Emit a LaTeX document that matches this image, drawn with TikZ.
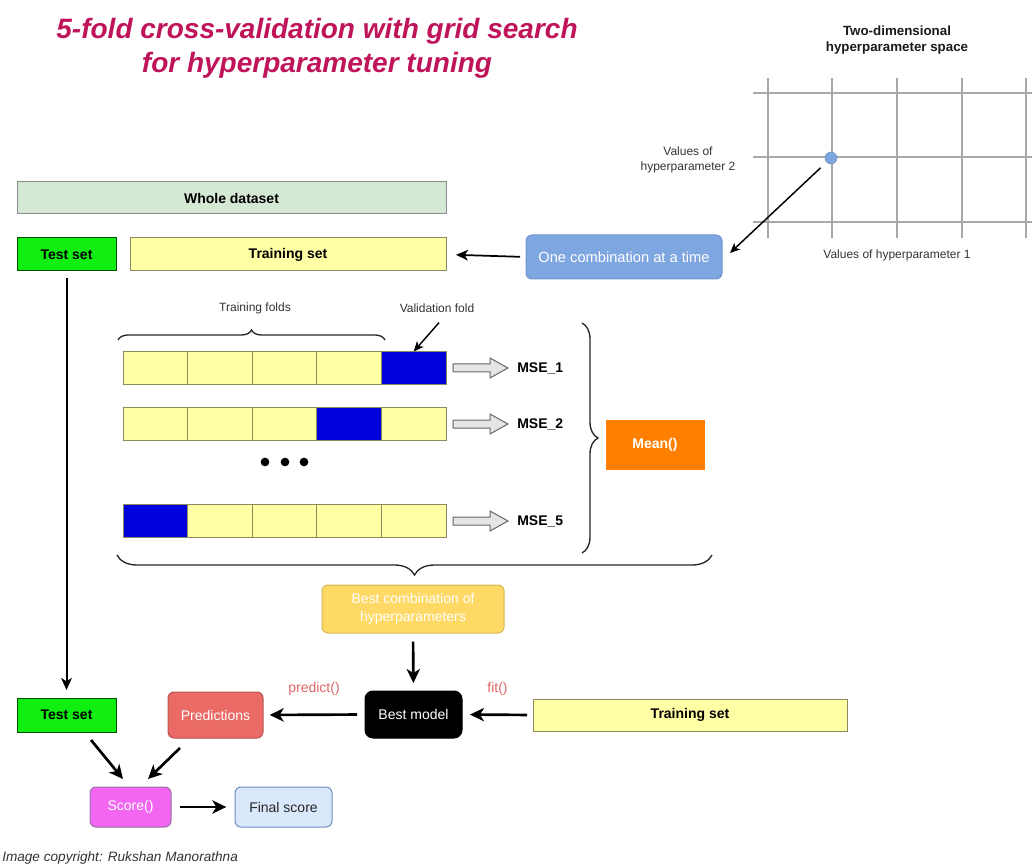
\documentclass[tikz,border=0pt]{standalone}
\usepackage{fontspec}
\setmainfont{Liberation Sans}
\usetikzlibrary{arrows.meta,decorations.pathreplacing,calc}
\definecolor{titlec}{HTML}{C0145A}
\definecolor{gridc}{HTML}{A8A8A8}
\definecolor{dotc}{HTML}{7EA6E0}
\definecolor{wholef}{HTML}{D5E8D4}
\definecolor{greenf}{HTML}{11EE11}
\definecolor{yellowf}{HTML}{FFFFA6}
\definecolor{yellowd}{HTML}{8C8A5C}
\definecolor{bluecell}{HTML}{0000DD}
\definecolor{orangef}{HTML}{FF8000}
\definecolor{goldf}{HTML}{FFD966}
\definecolor{goldd}{HTML}{D6B656}
\definecolor{redf}{HTML}{EA6B66}
\definecolor{redd}{HTML}{B85450}
\definecolor{pinkf}{HTML}{F266F2}
\definecolor{pinkd}{HTML}{9673A6}
\definecolor{lbluef}{HTML}{DAE8FC}
\definecolor{lblued}{HTML}{6C8EBF}
\definecolor{labelred}{HTML}{E06666}
\definecolor{txtgray}{HTML}{333333}
\tikzset{
  wh/.style n args={2}{minimum width={#1*0.75pt}, minimum height={#2*0.75pt}},
  box/.style={draw, inner sep=0pt, outer sep=0pt, line width=0.75pt, align=center,
    font=\fontsize{10.5}{13}\selectfont},
  boldbox/.style={box, font=\bfseries\fontsize{10.5}{13}\selectfont},
  rbox/.style={box, rounded corners=4.5pt},
  cell/.style={draw=yellowd, fill=yellowf, line width=0.75pt, inner sep=0pt, outer sep=0pt, wh={64.6}{33}},
  vcell/.style={cell, fill=bluecell},
  blockarrow/.style={draw=black!60, fill=black!10, line width=0.75pt, line join=miter},
  bigarrow/.style={line width=2pt, -{Stealth[length=10.5pt,width=10pt,inset=3pt]}},
  midarrow/.style={line width=1.5pt, -{Stealth[length=9pt,width=8pt,inset=2.5pt]}},
  thinarrow/.style={line width=1.1pt, -{Stealth[length=7.5pt,width=6.5pt,inset=2pt]}},
  small/.style={font=\fontsize{9}{11.25}\selectfont, text=txtgray, align=center, inner sep=0pt},
  brc/.style={decorate, line width=1pt, draw=black!85},
}
\begin{document}
\begin{tikzpicture}[x=0.75pt,y=-0.75pt]
\useasboundingbox (0,0) rectangle (1032,866);

% title
\node[font=\bfseries\itshape\fontsize{21}{25.5}\selectfont, text=titlec, align=center] (title) at (317,48)
  {5-fold cross-validation with grid search\\for hyperparameter tuning};

% hyperparameter space
\node[font=\bfseries\fontsize{10}{12}\selectfont, align=center, text=black!90] (hstitle) at (897,40)
  {Two-dimensional\\hyperparameter space};
\foreach \yy in {93,157,222} \draw[gridc, line width=1.5pt] (753,\yy) -- (1032,\yy);
\foreach \xx in {768,832,897,962,1026} \draw[gridc, line width=1.5pt] (\xx,78) -- (\xx,238);
\node[circle, fill=dotc, draw=lblued, line width=0.4pt, minimum size=9pt, inner sep=0pt] (dot) at (831,158) {};
\node[small] (hp2) at (688,160) {Values of\\hyperparameter 2};
\node[small] (hp1) at (897,255) {Values of hyperparameter 1};

% data sets
\node[boldbox, fill=wholef, draw=black!45, wh={429}{32}] (whole) at (231.5,198) {Whole dataset};
\node[boldbox, fill=greenf, draw=green!30!black, wh={99}{33}] (test1) at (66.5,254.5) {Test set};
\node[boldbox, fill=yellowf, draw=yellowd, wh={316}{33}] (train1) at (288,254.5) {Training set};
\node[rbox, fill=dotc, draw=dotc!90!black, text=white, wh={196}{44}, font=\fontsize{11}{13}\selectfont] (onecomb) at (624,257) {One combination at a time};

\coordinate (dotend) at ($(onecomb.east)+(8,-4)$);
\draw[thinarrow, shorten <=6pt] (dot) -- (dotend);
\draw[midarrow, line width=1.3pt, shorten <=4.5pt, shorten >=7.5pt] (onecomb.west) -- (train1.east);

% folds
\node[small] (tf) at (255,308) {Training folds};
\node[small] (vf) at (437,308) {Validation fold};
\draw[brc, decoration={brace, amplitude=7.5pt}] (118,340) -- (385,340);

\node[cell]  (r1c1) at (155.3,368) {};
\node[cell]  (r1c2) at (219.9,368) {};
\node[cell]  (r1c3) at (284.5,368) {};
\node[cell]  (r1c4) at (349.1,368) {};
\node[vcell] (r1c5) at (413.7,368) {};

\node[cell]  (r2c1) at (155.3,424) {};
\node[cell]  (r2c2) at (219.9,424) {};
\node[cell]  (r2c3) at (284.5,424) {};
\node[vcell] (r2c4) at (349.1,424) {};
\node[cell]  (r2c5) at (413.7,424) {};

\node[vcell] (r3c1) at (155.3,521) {};
\node[cell]  (r3c2) at (219.9,521) {};
\node[cell]  (r3c3) at (284.5,521) {};
\node[cell]  (r3c4) at (349.1,521) {};
\node[cell]  (r3c5) at (413.7,521) {};

\coordinate (vfs) at ($(vf.south)+(2,10)$);
\draw[thinarrow] (vfs) -- ($(r1c5.north)+(0,0)$);

\foreach \xx [count=\i] in {265,285,304}
  \node[circle, fill=black, minimum size=6.5pt, inner sep=0pt] (dot\i) at (\xx,462) {};

% block arrows
\foreach \yy in {368,424,521}
  \draw[blockarrow] (453,\yy-4) -- (490,\yy-4) -- (490,\yy-10) -- (508,\yy) -- (490,\yy+10) -- (490,\yy+4) -- (453,\yy+4) -- cycle;
\node[anchor=west, inner sep=0pt, font=\bfseries\fontsize{10.5}{13}\selectfont] (mse1) at (517,368) {MSE\_1};
\node[anchor=west, inner sep=0pt, font=\bfseries\fontsize{10.5}{13}\selectfont] (mse2) at (517,424) {MSE\_2};
\node[anchor=west, inner sep=0pt, font=\bfseries\fontsize{10.5}{13}\selectfont] (mse5) at (517,521) {MSE\_5};

\draw[brc, decoration={brace, amplitude=12pt}] (582,323) -- (582,553);
\node[boldbox, fill=orangef, draw=orangef, text=white, wh={98}{49}] (mean) at (655,444.5) {Mean()};

\draw[brc, decoration={brace, amplitude=15pt}] (712,555) -- (117,555);

% lower part
\node[rbox, fill=goldf, draw=goldd, text=white, wh={182}{48}] (bestcomb) at (413,609) {Best combination of\\hyperparameters};
\node[rbox, fill=black, draw=black, text=white, wh={97}{47}, rounded corners=6pt] (bestmodel) at (413.5,714.5) {Best model};
\node[boldbox, fill=yellowf, draw=yellowd, wh={314}{32}] (train2) at (690,715) {Training set};
\node[rbox, fill=redf, draw=redd, text=white, wh={95}{46}] (pred) at (215.5,715) {Predictions};
\node[boldbox, fill=greenf, draw=green!30!black, wh={99}{34}] (test2) at (66.5,715) {Test set};
\node[rbox, fill=pinkf, draw=pinkd, text=white, wh={81}{40}] (score) at (130.5,807) {Score()};
\node[rbox, fill=lbluef, draw=lblued, text=black!85, wh={97}{40}] (final) at (283.5,807) {Final score};

\draw[midarrow, shorten <=5pt, shorten >=6pt] (test1.south) -- (test2.north);
\draw[bigarrow, shorten <=6.5pt, shorten >=6pt] (bestcomb.south) -- (bestmodel.north);
\draw[bigarrow, shorten <=4.5pt, shorten >=6pt] (train2.west) -- (bestmodel.east)
  node[midway, above=10pt, font=\fontsize{10.5}{13}\selectfont, text=labelred] (fitlbl) {fit()};
\draw[bigarrow, shorten <=6pt, shorten >=5pt] (bestmodel.west) -- (pred.east)
  node[midway, above=10pt, font=\fontsize{10.5}{13}\selectfont, text=labelred] (predlbl) {predict()};
\coordinate (t2s) at ($(test2.south)+(24.5,8)$);
\coordinate (ps) at ($(pred.south)+(-35.5,10)$);
\draw[bigarrow] (t2s) -- ($(score.north)+(-7.5,-8)$);
\draw[bigarrow] (ps) -- ($(score.north)+(17.5,-8)$);
\draw[bigarrow, shorten <=6.5pt, shorten >=6.5pt] (score.east) -- (final.west);

\node[anchor=west, inner sep=0pt, font=\itshape\fontsize{10.2}{12}\selectfont, text=txtgray] (copy) at (2,858) {Image copyright: Rukshan Manorathna};
\end{tikzpicture}
\end{document}
